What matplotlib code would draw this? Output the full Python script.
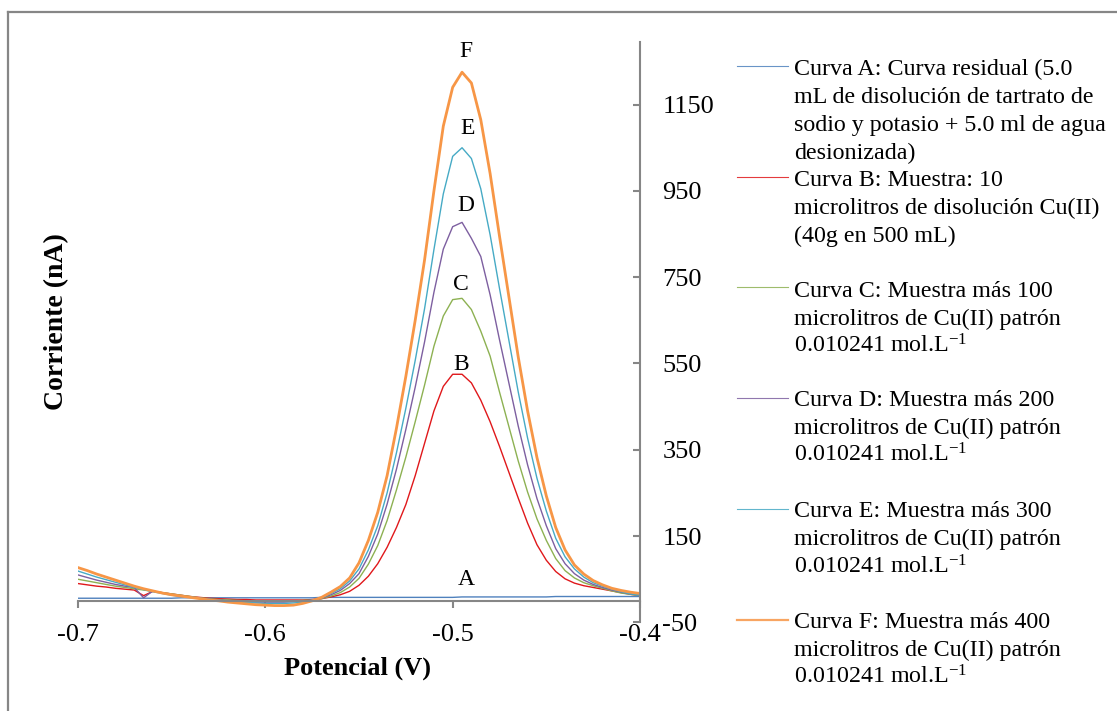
import matplotlib
matplotlib.use('Agg')
import matplotlib.pyplot as plt
from matplotlib.lines import Line2D

plt.rcParams['font.family'] = ['Liberation Serif', 'DejaVu Serif']
plt.rcParams['mathtext.fontset'] = 'custom'
plt.rcParams['mathtext.rm'] = 'Liberation Serif'
plt.rcParams['mathtext.it'] = 'Liberation Serif:italic'
plt.rcParams['mathtext.bf'] = 'Liberation Serif:bold'
plt.rcParams['axes.unicode_minus'] = False

# ---------------- data ----------------
potencial = [-0.700, -0.695, -0.690, -0.685, -0.680, -0.675, -0.670, -0.665, -0.660, -0.655,
             -0.650, -0.645, -0.640, -0.635, -0.630, -0.625, -0.620, -0.615, -0.610, -0.605,
             -0.600, -0.595, -0.590, -0.585, -0.580, -0.575, -0.570, -0.565, -0.560, -0.555,
             -0.550, -0.545, -0.540, -0.535, -0.530, -0.525, -0.520, -0.515, -0.510, -0.505,
             -0.500, -0.495, -0.490, -0.485, -0.480, -0.475, -0.470, -0.465, -0.460, -0.455,
             -0.450, -0.445, -0.440, -0.435, -0.430, -0.425, -0.420, -0.415, -0.410, -0.405,
             -0.400]

curva_a = [6, 6, 6, 6, 6, 6, 6, 6, 6, 6, 6,
           7, 7, 7, 7, 7, 7, 7, 7, 7, 7, 7, 7, 7, 7, 7,
           8, 8, 8, 8, 8, 8, 8, 8, 8, 8, 8, 8, 8, 8, 8,
           9, 9, 9, 9, 9, 9, 9, 9, 9, 9,
           10, 10, 10, 10, 10, 10, 10, 10, 10, 10]

curva_b = [40, 37, 34, 32, 29, 27, 25, 12, 22, 19, 16, 13,
           10, 8, 6, 5, 4, 3, 3, 2, 2, 2, 2, 2, 2, 3,
           5, 9, 14, 22, 36, 57, 86, 124, 170, 223, 290, 365, 440, 497, 525, 525,
           505, 465, 415, 358, 298, 238, 180, 130, 94, 68, 51, 41, 35, 31, 27, 23, 19, 15, 12]

curva_c = [50, 46, 42, 38, 34, 31, 28, 25, 22, 19, 16, 13,
           10, 7, 5, 3, 2, 1, 0, 0, -1, -1, -1, 0, 1, 2,
           5, 11, 19, 32, 52, 85, 128, 186, 257, 333, 415, 500, 590, 660, 698, 701,
           675, 625, 567, 484, 404, 324, 252, 190, 140, 98, 70, 53, 42, 35, 29, 23, 18, 15, 12]

curva_d = [60, 54, 48, 43, 38, 34, 31, 7, 23, 18, 14, 11,
           9, 6, 4, 2, 0, -1, -2, -3, -3, -3, -3, -2, -1, 2,
           6, 14, 24, 40, 63, 103, 155, 224, 305, 397, 495, 600, 715, 815, 867, 877,
           840, 798, 709, 605, 505, 405, 315, 237, 174, 121, 86, 63, 48, 38, 31, 25, 20, 16, 13]

curva_e = [69, 62, 55, 49, 43, 37, 31, 26, 21, 17, 13, 10,
           9, 6, 3, 1, -1, -3, -4, -5, -6, -6, -6, -5, -3, 1,
           7, 17, 28, 46, 74, 118, 174, 250, 343, 446, 557, 677, 814, 943, 1030, 1050,
           1025, 955, 848, 724, 604, 484, 377, 284, 208, 145, 102, 74, 55, 42, 34, 27, 21, 16, 13]

curva_f = [77, 70, 62, 55, 48, 41, 34, 28, 23, 18, 14, 11,
           8, 5, 2, 0, -3, -5, -7, -9, -10, -11, -11, -10, -6, 0,
           8, 20, 33, 53, 88, 140, 205, 290, 400, 520, 650, 790, 950, 1100, 1190, 1225,
           1200, 1115, 990, 845, 705, 565, 440, 332, 243, 170, 118, 83, 62, 47, 37, 29, 24, 20, 17]

series = [curva_a, curva_b, curva_c, curva_d, curva_e, curva_f]
letras = ['A', 'B', 'C', 'D', 'E', 'F']

leyenda = [
    ["Curva A: Curva residual (5.0", "mL de disolución de tartrato de",
     "sodio y potasio + 5.0 ml de agua", "desionizada)"],
    ["Curva B: Muestra: 10", "microlitros de disolución Cu(II)", "(40g en 500 mL)"],
    ["Curva C: Muestra más 100", "microlitros de Cu(II) patrón", "0.010241 mol.L$^{-1}$"],
    ["Curva D: Muestra más 200", "microlitros de Cu(II) patrón", "0.010241 mol.L$^{-1}$"],
    ["Curva E: Muestra más 300", "microlitros de Cu(II) patrón", "0.010241 mol.L$^{-1}$"],
    ["Curva F: Muestra más 400", "microlitros de Cu(II) patrón", "0.010241 mol.L$^{-1}$"],
]

xticks = [-0.7, -0.6, -0.5, -0.4]
xticklabels = ['-0.7', '-0.6', '-0.5', '-0.4']
yticks = [-50, 150, 350, 550, 750, 950, 1150]
yticklabels = ['-50', '150', '350', '550', '750', '950', '1150']

# ---------------- styles / layout ----------------
colors = ['#4F81BD', '#E0181B', '#8DB152', '#7D5FA0', '#46AAC5', '#F79646']
lws = [1.0, 1.0, 1.0, 1.0, 1.0, 2.0]
gray = '#868686'

W, H = 1117, 711
fig = plt.figure(figsize=(W / 100, H / 100), dpi=100)

def fx(px):
    return px / W

def fy(py):
    return 1 - py / H

ax = fig.add_axes([fx(78), 1 - 622.4 / H, (640 - 78) / W, (622.4 - 42) / H])
for s, c, lw in zip(series, colors, lws):
    ax.plot(potencial, s, color=c, lw=lw)

ax.set_xlim(-0.7, -0.4)
ax.set_ylim(-50, 1295)
ax.spines['top'].set_visible(False)
ax.spines['left'].set_visible(False)
ax.spines['right'].set_color(gray)
ax.spines['right'].set_linewidth(1.5)
ax.spines['bottom'].set_position(('data', 0))
ax.spines['bottom'].set_color(gray)
ax.spines['bottom'].set_linewidth(1.5)

ax.set_xticks(xticks)
ax.set_xticklabels(xticklabels)
ax.yaxis.tick_right()
ax.set_yticks(yticks)
ax.set_yticklabels(yticklabels)
ax.tick_params(axis='x', direction='out', length=5, width=1.5, color=gray,
               pad=12, labelsize=19)
ax.tick_params(axis='y', direction='in', length=5, width=1.5, color=gray,
               pad=16, labelsize=19)

# curve letters
letra_pos = [(-0.4925, 37), (-0.4955, 536), (-0.4956, 720),
             (-0.4929, 904), (-0.4923, 1082), (-0.4927, 1261)]
for l, (xx, yy) in zip(letras, letra_pos):
    ax.text(xx, yy, l, ha='center', va='baseline', fontsize=17, clip_on=False)

# axis titles
fig.text(fx(357), fy(668), 'Potencial (V)', ha='center', va='center',
         fontsize=19, fontweight='bold')
fig.text(fx(57), fy(322), 'Corriente (nA)', ha='center', va='center',
         rotation=90, fontsize=20, fontweight='bold')

# legend (drawn manually)
sample_y = [65.7, 176.7, 287, 398.3, 509.3, 620]
first_base = [75, 186, 296.7, 406, 517, 627.7]
for i, lines in enumerate(leyenda):
    fig.add_artist(Line2D([fx(736.7), fx(788.3)], [fy(sample_y[i])] * 2,
                          color=colors[i], lw=lws[i] * 0.8, alpha=0.85))
    for j, t in enumerate(lines):
        fig.text(fx(794), fy(first_base[i] + 28 * j), t, ha='left',
                 va='baseline', fontsize=17.3)

# outer frame (top and left edges visible)
fig.add_artist(Line2D([fx(8), 1.0], [fy(12)] * 2, color=gray, lw=1.6))
fig.add_artist(Line2D([fx(8), fx(8)], [fy(12), 0.0], color=gray, lw=1.6))

fig.savefig('out.png', dpi=100)
